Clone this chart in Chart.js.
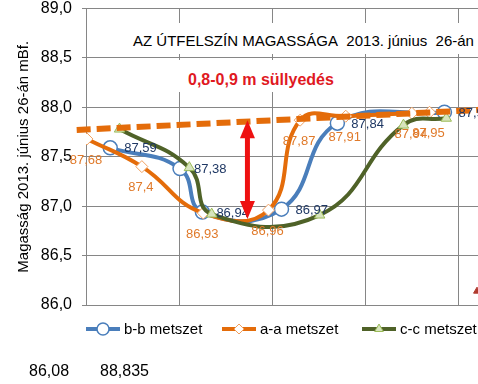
<!DOCTYPE html>
<html>
<head>
<meta charset="utf-8">
<script src="https://cdn.jsdelivr.net/npm/chart.js@4/dist/chart.umd.min.js"></script>
<style>
    html, body { margin: 0; padding: 0; background: #fff; overflow: hidden; width: 478px; height: 384px; }
    #wrap { position: relative; width: 560px; height: 384px; }
    #chart { position: absolute; left: 0; top: 0; }
    .box { position: absolute; background: #fff; white-space: nowrap; font-family: "Liberation Sans", Arial, sans-serif; }
</style>
</head>
<body>
<div id="wrap">
    <canvas id="chart" width="560" height="384"></canvas>
    <div class="box" style="left:125px; top:23px; width:420px; height:31px; line-height:36px; padding-left:8px; font-size:15px; color:#000;">AZ ÚTFELSZÍN MAGASSÁGA&nbsp; 2013. június&nbsp; 26-án</div>
    <div class="box" style="left:175px; top:60px; width:160px; height:32px; line-height:40px; padding-left:13px; font-size:16px; font-weight:bold; color:#E0191F;">0,8-0,9 m süllyedés</div>
    <div class="box" style="left:29px; top:362px; font-size:16px; color:#000;">86,08</div>
    <div class="box" style="left:100px; top:362px; font-size:16px; color:#000;">88,835</div>
</div>
<script>
    // Cross-section data (x = position along the road, y = surface height mBf.)
    const bbX = [0.26, 1.01, 1.25, 2.10, 2.70, 3.85];
    const bbY = [87.59, 87.38, 86.94, 86.97, 87.84, 87.95];

    const aaX = [0.01, 0.60, 1.26, 1.96, 2.30, 2.79, 3.50, 3.69];
    const aaY = [87.68, 87.40, 86.93, 86.96, 87.87, 87.91, 87.94, 87.95];

    const ccX = [0.36, 1.11, 1.35, 2.51, 3.41, 3.87];
    const ccY = [87.78, 87.39, 86.92, 86.91, 87.82, 87.89];

    // original road level (dashed)
    const origX = [-0.1, 5];
    const origY = [87.77, 88.01];

    // partially visible red marker at the right edge
    const redX = [4.2];
    const redY = [86.14];

    const seriesNames = ['b-b metszet', 'a-a metszet', 'c-c metszet'];
    const yTicks = [86.0, 86.5, 87.0, 87.5, 88.0, 88.5, 89.0];

    // settlement arrow (data coords)
    const sagArrow = { x: 1.734, from: 87.87, to: 86.87 };

    const pts = (xs, ys) => xs.map((x, i) => ({ x: x, y: ys[i] }));
    const fmt = v => String(v).replace('.', ',');
    const FONT = "'Liberation Sans', Arial, sans-serif";

    const BLUE = '#4A7EBB', ORANGE = '#E46C0A', GREEN = '#4F6228';

    // value labels next to the markers
    const labelPlugin = {
        id: 'valueLabels',
        afterDatasetsDraw(chart) {
            const ctx = chart.ctx;
            ctx.save();
            ctx.font = '13px ' + FONT;
            chart.data.datasets.forEach((ds, i) => {
                if (!ds.valueLabel) return;
                const meta = chart.getDatasetMeta(i);
                meta.data.forEach((el, j) => {
                    const v = ds.data[j].y;
                    ctx.fillStyle = ds.valueLabel.color;
                    if (ds.valueLabel.pos === 'right') {
                        ctx.textAlign = 'left';
                        ctx.textBaseline = 'middle';
                        ctx.fillText(fmt(v), el.x + 14, el.y + 1);
                    } else {
                        ctx.textAlign = 'center';
                        ctx.textBaseline = 'middle';
                        ctx.fillText(fmt(v), el.x - 1, el.y + 21);
                    }
                });
            });
            ctx.restore();
        }
    };

    // red double arrow showing the settlement
    const arrowPlugin = {
        id: 'sagArrow',
        afterDatasetsDraw(chart) {
            const ctx = chart.ctx;
            const xs = chart.scales.x, ys = chart.scales.y;
            const x = xs.getPixelForValue(sagArrow.x);
            const y1 = ys.getPixelForValue(sagArrow.from);
            const y2 = ys.getPixelForValue(sagArrow.to);
            const head = 18, hw = 7.5;
            ctx.save();
            ctx.fillStyle = '#EE1111';
            ctx.strokeStyle = '#EE1111';
            ctx.lineWidth = 5;
            ctx.beginPath();
            ctx.moveTo(x, y1 + head - 2);
            ctx.lineTo(x, y2 - head + 2);
            ctx.stroke();
            ctx.beginPath();
            ctx.moveTo(x, y1);
            ctx.lineTo(x - hw, y1 + head);
            ctx.lineTo(x + hw, y1 + head);
            ctx.closePath();
            ctx.fill();
            ctx.beginPath();
            ctx.moveTo(x, y2);
            ctx.lineTo(x - hw, y2 - head);
            ctx.lineTo(x + hw, y2 - head);
            ctx.closePath();
            ctx.fill();
            ctx.restore();
        }
    };

    // legend drawn by hand so it can start at the plot's left edge
    const legendPlugin = {
        id: 'sideLegend',
        afterDraw(chart) {
            const ctx = chart.ctx;
            const starts = [86, 222, 362];
            const y = 329;
            ctx.save();
            ctx.font = '15px ' + FONT;
            ctx.textBaseline = 'middle';
            ctx.textAlign = 'left';
            for (let i = 0; i < 3; i++) {
                const ds = chart.data.datasets.find(d => d.label === seriesNames[i]);
                const x0 = starts[i];
                ctx.strokeStyle = ds.borderColor;
                ctx.lineWidth = ds.borderWidth;
                ctx.beginPath();
                ctx.moveTo(x0, y);
                ctx.lineTo(x0 + 34, y);
                ctx.stroke();
                ctx.fillStyle = ds.pointBackgroundColor;
                ctx.strokeStyle = ds.pointBorderColor;
                ctx.lineWidth = ds.pointBorderWidth;
                Chart.helpers.drawPoint(ctx, {
                    pointStyle: ds.pointStyle, radius: ds.pointRadius - 1, rotation: 0, borderWidth: ds.pointBorderWidth
                }, x0 + 17, y);
                ctx.fillStyle = '#000';
                ctx.fillText(seriesNames[i], x0 + 38, y + 1);
            }
            ctx.restore();
        }
    };

    new Chart(document.getElementById('chart'), {
        type: 'scatter',
        data: {
            datasets: [
                {
                    label: 'eredeti szint',
                    data: pts(origX, origY),
                    showLine: true,
                    borderColor: ORANGE,
                    borderWidth: 6,
                    borderDash: [14, 6],
                    pointRadius: 0,
                    clip: false,
                    order: 0
                },
                {
                    label: 'piros',
                    data: pts(redX, redY),
                    pointStyle: 'triangle',
                    pointRadius: 4,
                    backgroundColor: '#B03A2E',
                    borderColor: '#B03A2E',
                    order: 1
                },
                {
                    label: seriesNames[2],
                    data: pts(ccX, ccY),
                    showLine: true,
                    tension: 0.45,
                    borderColor: GREEN,
                    borderWidth: 4,
                    pointStyle: 'triangle',
                    pointRadius: 6,
                    pointBackgroundColor: '#D7E4BD',
                    pointBorderColor: '#9BBB59',
                    pointBorderWidth: 1,
                    order: 2
                },
                {
                    label: seriesNames[1],
                    data: pts(aaX, aaY),
                    showLine: true,
                    tension: 0.45,
                    borderColor: ORANGE,
                    borderWidth: 4,
                    pointStyle: 'rectRot',
                    pointRadius: 6,
                    pointBackgroundColor: '#FFFFFF',
                    pointBorderColor: '#F0A060',
                    pointBorderWidth: 1,
                    valueLabel: { pos: 'below', color: '#E07A2A' },
                    order: 3
                },
                {
                    label: seriesNames[0],
                    data: pts(bbX, bbY),
                    showLine: true,
                    tension: 0.45,
                    borderColor: BLUE,
                    borderWidth: 4,
                    pointStyle: 'circle',
                    pointRadius: 7,
                    pointBackgroundColor: '#FFFFFF',
                    pointBorderColor: BLUE,
                    pointBorderWidth: 1.5,
                    valueLabel: { pos: 'right', color: '#1F3864' },
                    order: 4
                }
            ]
        },
        options: {
            responsive: false,
            animation: false,
            events: [],
            layout: { padding: { top: 5, right: 4, left: 0, bottom: 0 } },
            plugins: {
                legend: { display: false },
                tooltip: { enabled: false }
            },
            scales: {
                x: {
                    type: 'linear',
                    min: 0,
                    max: 5,
                    ticks: { display: false, stepSize: 1 },
                    grid: { color: '#868686', drawTicks: false },
                    border: { color: '#868686' },
                    afterFit: s => { s.height = 79; s.paddingLeft = 0; s.paddingRight = 0; }
                },
                y: {
                    min: 86,
                    max: 89,
                    afterBuildTicks: s => { s.ticks = yTicks.map(v => ({ value: v })); },
                    ticks: {
                        color: '#000',
                        font: { family: FONT, size: 16 },
                        padding: 10,
                        callback: v => v.toFixed(1).replace('.', ',')
                    },
                    grid: { color: '#868686', tickLength: 4 },
                    border: { color: '#868686' },
                    title: {
                        display: true,
                        text: 'Magasság 2013. június 26-án mBf.',
                        color: '#000',
                        font: { family: FONT, size: 15 },
                        padding: { top: 15, bottom: 0 }
                    },
                    afterFit: s => { s.width = 86; s.paddingTop = 0; s.paddingBottom = 0; }
                }
            }
        },
        plugins: [labelPlugin, arrowPlugin, legendPlugin]
    });
</script>
</body>
</html>
